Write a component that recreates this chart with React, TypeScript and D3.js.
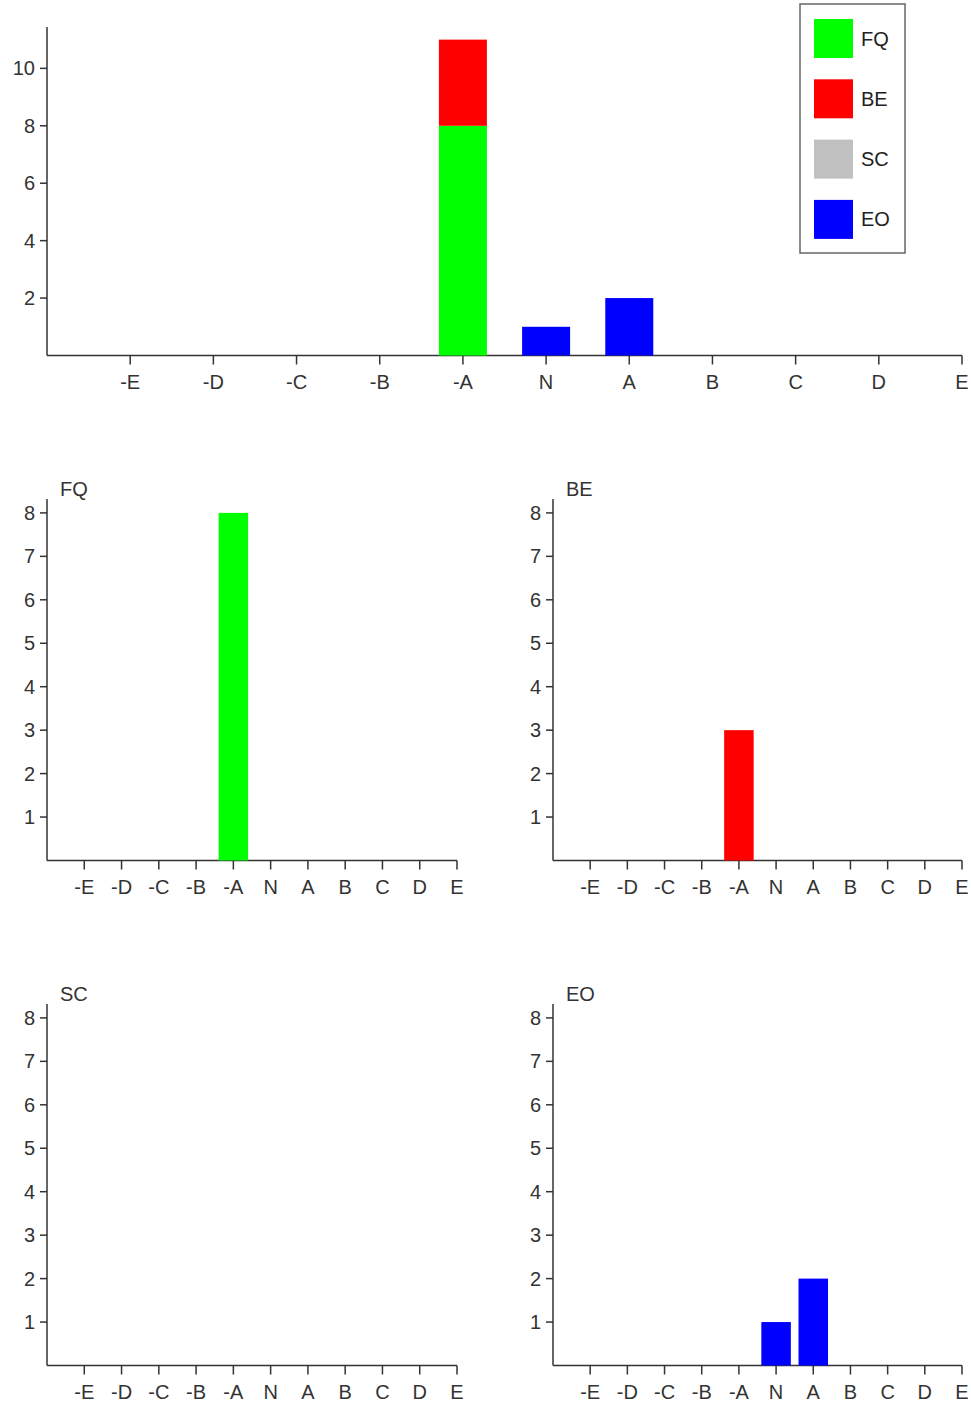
import { useEffect, useRef } from "react"
import * as d3 from "d3"

const categories = ["-E", "-D", "-C", "-B", "-A", "N", "A", "B", "C", "D", "E"]
const seriesNames = ["FQ", "BE", "SC", "EO"]
const seriesColors = ["#00ff00", "#ff0000", "#c0c0c0", "#0000ff"]
const fqValues = [0, 0, 0, 0, 8, 0, 0, 0, 0, 0, 0]
const beValues = [0, 0, 0, 0, 3, 0, 0, 0, 0, 0, 0]
const scValues = [0, 0, 0, 0, 0, 0, 0, 0, 0, 0, 0]
const eoValues = [0, 0, 0, 0, 0, 1, 2, 0, 0, 0, 0]
const topTicks = [2, 4, 6, 8, 10]
const smallTicks = [1, 2, 3, 4, 5, 6, 7, 8]

const FONT = "'Liberation Sans', Arial, sans-serif"
const INK = "#333"
const FS = 20

export default function App() {
  const ref = useRef<SVGSVGElement | null>(null)

  useEffect(() => {
    const svg = d3.select(ref.current)
    svg.selectAll("*").remove()

    const allSeries = [fqValues, beValues, scValues, eoValues]

    // draws axes for one panel, returns scales
    const panel = (
      x0: number, x1: number, y0: number, yMax: number, yTop: number,
      ticks: number[], title: string | null
    ) => {
      const g = svg.append("g")
      const x = d3.scaleLinear().domain([0, categories.length]).range([x0, x1])
      const y = d3.scaleLinear().domain([0, yMax * 1.04]).range([y0, yTop])

      g.append("line")
        .attr("x1", x0).attr("x2", x1).attr("y1", y0).attr("y2", y0)
        .attr("stroke", INK).attr("stroke-width", 1.5)
      g.append("line")
        .attr("x1", x0).attr("x2", x0).attr("y1", y0).attr("y2", yTop)
        .attr("stroke", INK).attr("stroke-width", 1.5)

      categories.forEach((c, i) => {
        const px = x(i + 1)
        g.append("line")
          .attr("x1", px).attr("x2", px).attr("y1", y0).attr("y2", y0 + 9)
          .attr("stroke", INK).attr("stroke-width", 1.5)
        g.append("text")
          .attr("x", px).attr("y", y0 + 33)
          .attr("text-anchor", "middle")
          .attr("font-family", FONT).attr("font-size", FS).attr("fill", INK)
          .text(c)
      })
      ticks.forEach(t => {
        const py = y(t)
        g.append("line")
          .attr("x1", x0 - 7).attr("x2", x0).attr("y1", py).attr("y2", py)
          .attr("stroke", INK).attr("stroke-width", 1.5)
        g.append("text")
          .attr("x", x0 - 12).attr("y", py).attr("dy", "0.35em")
          .attr("text-anchor", "end")
          .attr("font-family", FONT).attr("font-size", FS).attr("fill", INK)
          .text(t)
      })
      if (title) {
        g.append("text")
          .attr("x", x0 + 13).attr("y", yTop - 3)
          .attr("font-family", FONT).attr("font-size", FS).attr("fill", INK)
          .text(title)
      }
      return { g, x, y }
    }

    // stacked overview
    const top = panel(47, 962, 355.5, 11, 27, topTicks, null)
    const stack = d3.stack<number>()
      .keys(seriesNames.map((_, k) => String(k)))
      .value((i, key) => allSeries[+key][i])
    const layers = stack(categories.map((_, i) => i))
    const topW = 48
    layers.forEach((layer, k) => {
      layer.forEach((d, i) => {
        if (d[1] - d[0] <= 0) return
        top.g.append("rect")
          .attr("x", top.x(i + 1) - topW / 2)
          .attr("y", top.y(d[1]))
          .attr("width", topW)
          .attr("height", top.y(d[0]) - top.y(d[1]))
          .attr("fill", seriesColors[k])
      })
    })

    // legend
    const lg = svg.append("g")
    lg.append("rect")
      .attr("x", 800).attr("y", 4).attr("width", 105).attr("height", 249)
      .attr("fill", "white").attr("stroke", "#666").attr("stroke-width", 1.5)
    seriesNames.forEach((s, k) => {
      lg.append("rect")
        .attr("x", 814).attr("y", 19 + k * 60.3).attr("width", 39).attr("height", 39)
        .attr("fill", seriesColors[k])
      lg.append("text")
        .attr("x", 861).attr("y", 38.5 + k * 60.3).attr("dy", "0.35em")
        .attr("font-family", FONT).attr("font-size", FS).attr("fill", "#222")
        .text(s)
    })

    // small multiples
    const spots = [
      { x0: 47, x1: 457, y0: 860.5 },
      { x0: 553, x1: 962, y0: 860.5 },
      { x0: 47, x1: 457, y0: 1365.5 },
      { x0: 553, x1: 962, y0: 1365.5 },
    ]
    seriesNames.forEach((s, k) => {
      const sp = spots[k]
      const p = panel(sp.x0, sp.x1, sp.y0, 8, sp.y0 - 361.5, smallTicks, s)
      const w = 29.5
      allSeries[k].forEach((v, i) => {
        if (v <= 0) return
        p.g.append("rect")
          .attr("x", p.x(i + 1) - w / 2)
          .attr("y", p.y(v))
          .attr("width", w)
          .attr("height", p.y(0) - p.y(v))
          .attr("fill", seriesColors[k])
      })
    })
  }, [])

  return (
    <svg ref={ref} width={971} height={1403}
      style={{ position: "absolute", left: 0, top: 0, background: "white" }} />
  )
}
